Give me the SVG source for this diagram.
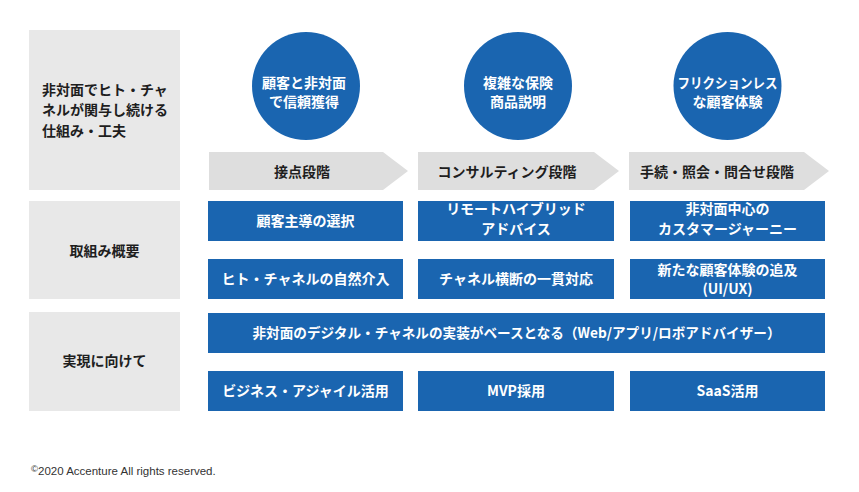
<svg xmlns="http://www.w3.org/2000/svg" width="859" height="492" viewBox="0 0 859 492">
<style>
.t{font-family:"Noto Sans CJK JP","Noto Sans",sans-serif;font-weight:bold;font-size:14px;}
.w{fill:#ffffff;}
.d{fill:#1e1e1e;}
.c{text-anchor:middle;}
.gb{fill:#e8e8e8;}
.ar{fill:#dedede;}
.bl{fill:#1a65b0;}
.ft{font-family:"Liberation Sans",Arial,sans-serif;font-size:11.5px;fill:#333333;}
</style>
<rect width="859" height="492" fill="#ffffff"/>
<g id="label-row1">
<rect class="gb" x="29" y="30" width="151" height="160"/>
<text class="t d" x="42" y="95">非対面でヒト・チャ</text>
<text class="t d" x="42" y="115">ネルが関与し続ける</text>
<text class="t d" x="42" y="136">仕組み・工夫</text>
</g>
<g id="label-row2">
<rect class="gb" x="29" y="201" width="151" height="98"/>
<text class="t d c" x="104.5" y="256">取組み概要</text>
</g>
<g id="label-row3">
<rect class="gb" x="29" y="312" width="151" height="99"/>
<text class="t d c" x="104.5" y="366">実現に向けて</text>
</g>
<g id="circle1">
<circle class="bl" cx="306" cy="86" r="54"/>
<text class="t w c" x="304" y="87.5">顧客と非対面</text>
<text class="t w c" x="304" y="106.5">で信頼獲得</text>
</g>
<g id="circle2">
<circle class="bl" cx="518" cy="86" r="54"/>
<text class="t w c" x="518" y="87.5">複雑な保険</text>
<text class="t w c" x="518" y="106.5">商品説明</text>
</g>
<g id="circle3">
<circle class="bl" cx="727.5" cy="86" r="54"/>
<text class="t w c" x="727.5" y="87.5" textLength="100" lengthAdjust="spacingAndGlyphs">フリクションレス</text>
<text class="t w c" x="727.5" y="106.5">な顧客体験</text>
</g>
<g id="stage1">
<polygon class="ar" points="209,152 383,152 408,171 383,190 209,190"/>
<text class="t d c" x="302" y="176.5">接点段階</text>
</g>
<g id="stage2">
<polygon class="ar" points="418,152 594,152 619,171 594,190 418,190"/>
<text class="t d c" x="507" y="176.5">コンサルティング段階</text>
</g>
<g id="stage3">
<polygon class="ar" points="629,152 804,152 829,171 804,190 629,190"/>
<text class="t d c" x="717" y="176.5">手続・照会・問合せ段階</text>
</g>
<g id="b11">
<rect class="bl" x="208" y="201" width="195" height="40"/>
<text class="t w c" x="305.5" y="226">顧客主導の選択</text>
</g>
<g id="b12">
<rect class="bl" x="418" y="201" width="196" height="40"/>
<text class="t w c" x="516" y="214">リモートハイブリッド</text>
<text class="t w c" x="516" y="233.5">アドバイス</text>
</g>
<g id="b13">
<rect class="bl" x="630" y="201" width="195" height="40"/>
<text class="t w c" x="727.5" y="214">非対面中心の</text>
<text class="t w c" x="727.5" y="233.5">カスタマージャーニー</text>
</g>
<g id="b21">
<rect class="bl" x="208" y="259" width="195" height="40"/>
<text class="t w c" x="305.5" y="284">ヒト・チャネルの自然介入</text>
</g>
<g id="b22">
<rect class="bl" x="418" y="259" width="196" height="40"/>
<text class="t w c" x="516" y="284">チャネル横断の一貫対応</text>
</g>
<g id="b23">
<rect class="bl" x="630" y="259" width="195" height="40"/>
<text class="t w c" x="727.5" y="275">新たな顧客体験の追及</text>
<text class="t w c" x="727.5" y="294">(UI/UX)</text>
</g>
<g id="b3">
<rect class="bl" x="208" y="313" width="617" height="40"/>
<text class="t w c" x="516.5" y="338" textLength="528" lengthAdjust="spacingAndGlyphs">非対面のデジタル・チャネルの実装がベースとなる（Web/アプリ/ロボアドバイザー）</text>
</g>
<g id="b41">
<rect class="bl" x="208" y="371" width="195" height="40"/>
<text class="t w c" x="305.5" y="396">ビジネス・アジャイル活用</text>
</g>
<g id="b42">
<rect class="bl" x="418" y="371" width="196" height="40"/>
<text class="t w c" x="516" y="396">MVP採用</text>
</g>
<g id="b43">
<rect class="bl" x="630" y="371" width="195" height="40"/>
<text class="t w c" x="727.5" y="396">SaaS活用</text>
</g>
<g id="connectors"></g>
<g id="footer">
<text class="ft" x="31" y="475"><tspan font-size="9.5px" dy="-3">©</tspan><tspan dy="3">2020 Accenture All rights reserved.</tspan></text>
</g>
</svg>
